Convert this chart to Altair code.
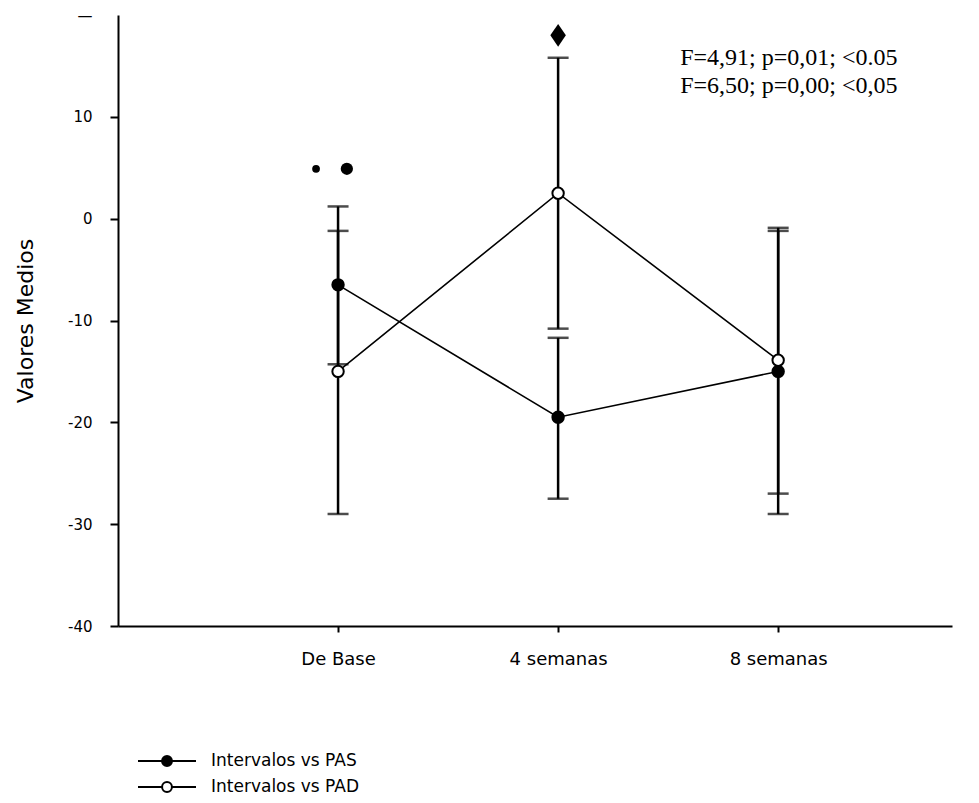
import altair as alt
import pandas as pd

# ---- data ----
categories = ["De Base", "4 semanas", "8 semanas"]
x_pos = [1, 2, 3]
series = ["Intervalos vs PAS", "Intervalos vs PAD"]

pas_mean = [-6.5, -19.5, -15.0]
pas_low = [-14.3, -27.5, -29.0]
pas_high = [1.2, -11.7, -1.2]

pad_mean = [-15.0, 2.5, -13.9]
pad_low = [-29.0, -10.8, -27.0]
pad_high = [-1.2, 15.8, -0.9]

y_ticks = [-40, -30, -20, -10, 0, 10, 20]

marker_x = [0.9, 1.04, 2.0]
marker_y = [4.9, 4.9, 18.0]
marker_kind = ["dot", "star", "diamond"]

stats_lines = ["F=4,91; p=0,01; <0.05", "F=6,50; p=0,00; <0,05"]

# ---- tables ----
rows = []
for name, m, lo, hi in [(series[0], pas_mean, pas_low, pas_high),
                        (series[1], pad_mean, pad_low, pad_high)]:
    for i, x in enumerate(x_pos):
        rows.append({"series": name, "x": x, "cat": categories[i],
                     "mean": m[i], "low": lo[i], "high": hi[i]})
df = pd.DataFrame(rows)
caps = pd.concat([
    df[["series", "x", "low"]].rename(columns={"low": "v"}),
    df[["series", "x", "high"]].rename(columns={"high": "v"}),
])
markers = pd.DataFrame({"x": marker_x, "y": marker_y, "kind": marker_kind})

label_expr = " : ".join(
    f"datum.value == {x} ? '{c}'" for x, c in zip(x_pos[:-1], categories[:-1])
) + f" : '{categories[-1]}'"

xscale = alt.Scale(domain=[0, 3.79], nice=False, zero=False)
yscale = alt.Scale(domain=[-40, 20], nice=False, zero=False)

X = alt.X("x:Q", scale=xscale,
          axis=alt.Axis(values=x_pos, labelExpr=label_expr, title=None,
                        tickSize=6, labelPadding=18, labelFontSize=18,
                        grid=False))
Y_axis = alt.Axis(values=y_ticks, title="Valores Medios", tickSize=8,
                  labelExpr="datum.value == 20 ? '\u2014' : '' + datum.value",
                  tickOpacity={"condition": {"test": "datum.value == 20",
                                             "value": 0}, "value": 1},
                  labelPadding=18, titlePadding=30, labelFontSize=15,
                  grid=False)

base = alt.Chart(df)

lines = base.mark_line(color="black", strokeWidth=1.6).encode(
    x=X,
    y=alt.Y("mean:Q", scale=yscale, axis=Y_axis),
    detail="series:N",
)

bars = base.mark_rule(color="black", strokeWidth=2.5).encode(
    x="x:Q", y="low:Q", y2="high:Q"
)

cap_marks = alt.Chart(caps).mark_tick(
    orient="horizontal", color="black", size=21, thickness=2.5
).encode(x="x:Q", y="v:Q")

legend_symbol = ("M-1,0H-0.17M0.17,0H1"
                 "M0.17,0A0.17,0.17 0 1,1 -0.17,0A0.17,0.17 0 1,1 0.17,0Z")

points = base.mark_point(filled=False, shape="circle", size=130,
                         stroke="black", strokeWidth=2, opacity=1).encode(
    x="x:Q",
    y="mean:Q",
    fill=alt.Fill("series:N",
                  scale=alt.Scale(domain=series, range=["black", "white"]),
                  legend=alt.Legend(
                      orient="none", legendX=19, legendY=733, title=None,
                      symbolType=legend_symbol, symbolSize=3364,
                      symbolStrokeColor="black", symbolStrokeWidth=2,
                      symbolOpacity=1, clipHeight=26, rowPadding=0,
                      labelFont="DejaVu Sans", labelFontSize=17,
                      labelColor="black", labelOffset=14, padding=0,
                  )),
)

mk = alt.Chart(markers)
dot_small = mk.transform_filter(alt.datum.kind == marker_kind[0]).mark_point(
    filled=True, color="black", opacity=1, shape="circle", size=60
).encode(x="x:Q", y="y:Q")
dot_big = mk.transform_filter(alt.datum.kind == marker_kind[1]).mark_point(
    filled=True, color="black", opacity=1, shape="circle", size=150
).encode(x="x:Q", y="y:Q")
diamond = mk.transform_filter(alt.datum.kind == marker_kind[2]).mark_point(
    filled=True, color="black", opacity=1,
    shape="M0,-1L0.68,0L0,1L-0.68,0Z", size=520
).encode(x="x:Q", y="y:Q")

stats = alt.Chart(pd.DataFrame({"a": [0]})).mark_text(
    text=stats_lines, align="left", baseline="top", font="Liberation Serif",
    fontSize=24, lineHeight=28, color="black",
).encode(x=alt.datum(2.555), y=alt.datum(17.0))

chart = alt.layer(lines, bars, cap_marks, points, dot_small, dot_big,
                  diamond, stats).properties(
    width=834, height=611,
    autosize=alt.AutoSizeParams(type="none"),
    padding={"left": 118, "top": 15, "right": 27, "bottom": 177},
    background="white",
).configure_view(stroke=None).configure_axis(
    domainColor="black", domainWidth=2, tickColor="black", tickWidth=2,
    labelFont="DejaVu Sans", labelColor="black",
    titleFont="DejaVu Sans", titleFontSize=22, titleFontWeight="normal",
    titleColor="black",
)

chart.save("out.html", embed_options={"renderer": "svg", "actions": False})
